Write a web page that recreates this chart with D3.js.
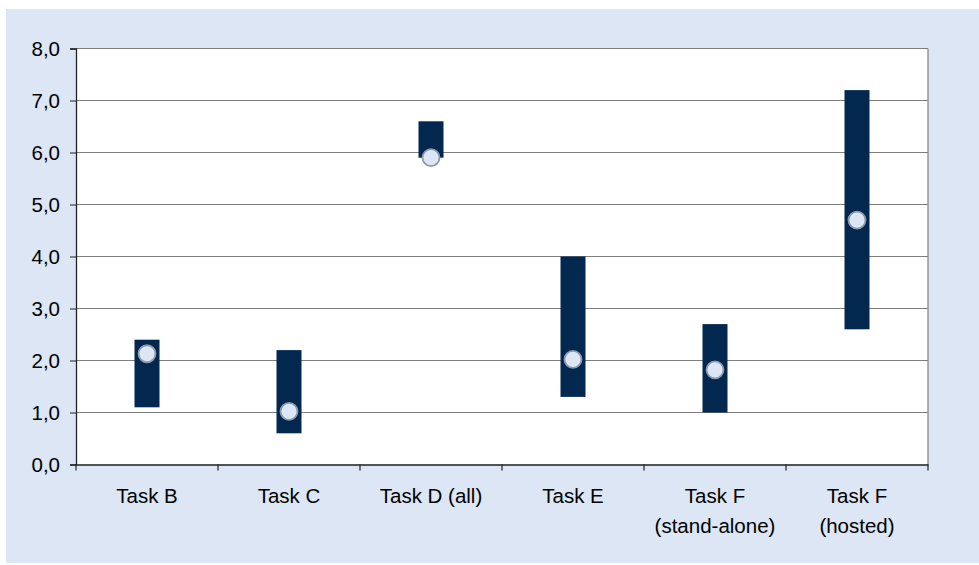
<!DOCTYPE html>
<html><head><meta charset="utf-8">
<script src="https://cdn.jsdelivr.net/npm/d3@7"></script>
<style>
html,body{margin:0;padding:0;background:#fff;}
svg{display:block;font-family:"Liberation Sans",Arial,sans-serif;}
</style></head>
<body>
<svg id="chart" width="979" height="565"></svg>
<script>
const categories = ["Task B","Task C","Task D (all)","Task E","Task F\n(stand-alone)","Task F\n(hosted)"];
const lowValues  = [1.1, 0.6, 5.9, 1.3, 1.0, 2.6];
const highValues = [2.4, 2.2, 6.6, 4.0, 2.7, 7.2];
const midValues  = [2.13, 1.02, 5.9, 2.02, 1.82, 4.7];
const yTicks = [0,1,2,3,4,5,6,7,8];

const svg = d3.select("#chart");
svg.append("rect").attr("x",6).attr("y",9).attr("width",973).attr("height",554).attr("fill","#dce6f4");

const L=76, R=928, T=48.5, B=464.5;
svg.append("rect").attr("x",L).attr("y",T).attr("width",R-L).attr("height",B-T).attr("fill","#fff");

const x = d3.scaleBand().domain(categories).range([L,R]).paddingInner(0).paddingOuter(0);
const y = d3.scaleLinear().domain([0,8]).range([B,T]);

// gridlines
svg.append("g").selectAll("line").data(yTicks.filter(d=>d>0)).join("line")
  .attr("x1",L).attr("x2",R).attr("y1",d=>y(d)).attr("y2",d=>y(d))
  .attr("stroke","#7f7f7f").attr("stroke-width",1.2);
// right border
svg.append("line").attr("x1",R).attr("x2",R).attr("y1",T).attr("y2",B).attr("stroke","#7f7f7f").attr("stroke-width",1.2);

// y axis
const yAxis = d3.axisLeft(y).tickValues(yTicks).tickSize(6).tickPadding(10)
  .tickFormat(d=>d3.format(".1f")(d).replace(".",","));
const gy = svg.append("g").attr("transform",`translate(${L},0)`).call(yAxis);
gy.select(".domain").attr("stroke","#222").attr("stroke-width",1.3);
gy.selectAll(".tick line").attr("stroke","#222");
gy.selectAll(".tick text").attr("font-size","20.5px").attr("fill","#000").attr("font-family","Liberation Sans, Arial, sans-serif");

// x axis
const xAxis = d3.axisBottom(x).tickSize(0).tickFormat("");
const gx = svg.append("g").attr("transform",`translate(0,${B})`).call(xAxis);
gx.select(".domain").attr("stroke","#222").attr("stroke-width",1.3);
const bounds = categories.map(c=>x(c)).concat([R]);
gx.append("g").selectAll("line").data(bounds).join("line")
  .attr("x1",d=>d).attr("x2",d=>d).attr("y1",0).attr("y2",6).attr("stroke","#222").attr("stroke-width",1.2);

// category labels
const lab = svg.append("g").attr("font-size","20.5px").attr("fill","#000").attr("text-anchor","middle");
categories.forEach(c=>{
  const lines = c.split("\n");
  const t = lab.append("text").attr("x",x(c)+x.bandwidth()/2).attr("y",502.5);
  lines.forEach((ln,i)=>t.append("tspan").attr("x",x(c)+x.bandwidth()/2).attr("dy",i===0?0:30).text(ln));
});

// bars
const bw = 25;
svg.append("g").selectAll("rect").data(categories).join("rect")
  .attr("x",(d)=>x(d)+x.bandwidth()/2-bw/2)
  .attr("width",bw)
  .attr("y",(d,i)=>y(highValues[i]))
  .attr("height",(d,i)=>y(lowValues[i])-y(highValues[i]))
  .attr("fill","#022850");

// markers
svg.append("g").selectAll("circle").data(categories).join("circle")
  .attr("cx",d=>x(d)+x.bandwidth()/2)
  .attr("cy",(d,i)=>y(midValues[i]))
  .attr("r",8.5)
  .attr("fill","#dce6f4")
  .attr("stroke","#8c98aa").attr("stroke-width",1.8);
</script>
</body></html>
